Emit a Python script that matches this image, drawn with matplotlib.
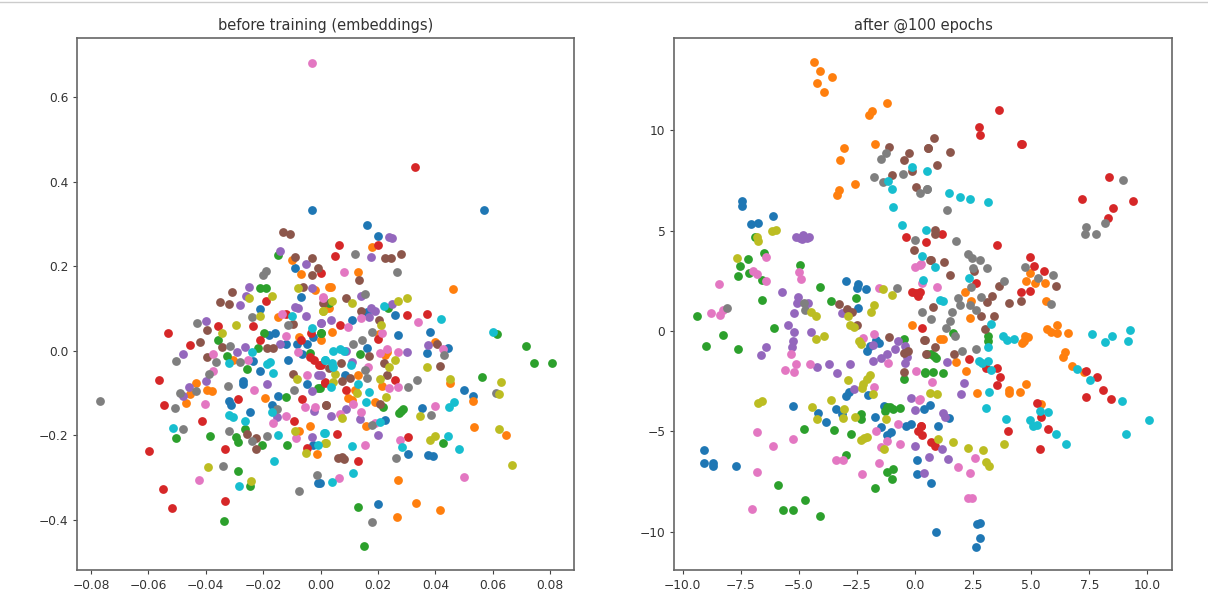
import matplotlib
matplotlib.use("Agg")
import matplotlib.pyplot as plt
from matplotlib.lines import Line2D

colors = ["tab:blue", "tab:orange", "tab:green", "tab:red", "tab:purple",
          "tab:brown", "tab:pink", "tab:gray", "tab:olive", "tab:cyan"]

# before training
before = {}
before["tab:blue"] = [(-0.003,0.332),(0.057,0.332),(-0.009,0.195),(-0.007,0.126),(-0.021,0.098),(0.016,0.297),(0.020,0.271),(0.016,0.091),(0.011,0.073),(0.026,0.084),
    (0.027,0.037),(0.038,0.045),(0.0445,0.006),(0.037,-0.006),(0.016,0.007),(0.0085,-0.058),(0.050,-0.093),(0.053,-0.107),(0.0224,-0.163),(0.0355,-0.136),(0.0304,-0.245),
    (0.0375,-0.247),(0.039,-0.249),(-0.0002,-0.314),(0.020,-0.363),(-0.018,0.037),(-0.016,0.043),(-0.012,0.015),(-0.0084,0.017),(-0.0046,0.017),(-0.0026,0.033),(-0.0237,-0.024),
    (-0.0213,-0.047),(-0.0115,-0.021),(-0.0066,-0.009),(-0.0272,-0.071),(-0.0272,-0.079),(-0.0046,-0.079),(-0.0318,-0.118),(-0.0314,-0.129),(-0.015,-0.107),(-0.0168,-0.129),
    (-0.0246,-0.145),(-0.0026,-0.222),(-0.0008,-0.314)]
before["tab:orange"] = [(-0.010,0.215),(-0.007,0.181),(-0.002,0.144),(0.003,0.151),(0.002,0.100),(-0.015,0.079),(0.018,0.245),(0.013,0.187),(0.0035,0.150),(0.046,0.147),(0.003,0.100),
    (0.004,0.045),(0.0205,0.039),(0.040,0.021),(0.023,-0.002),(0.0226,-0.010),(0.013,-0.058),(0.012,-0.093),(0.0213,-0.084),(0.045,-0.077),(0.053,-0.120),(0.0097,-0.113),(0.0108,-0.117),
    (0.019,-0.121),(0.0158,-0.178),(0.0533,-0.181),(0.0645,-0.200),(0.027,-0.305),(0.0334,-0.360),(0.0416,-0.377),(0.0265,-0.394),(-0.0077,0.032),(0,0.025),(-0.0307,-0.021),
    (-0.0436,-0.076),(-0.0455,-0.103),(-0.047,-0.124),(-0.0395,-0.093),(-0.038,-0.095),(-0.0195,-0.113),(-0.0074,-0.189),(-0.0037,-0.178),(-0.0013,-0.245)]
before["tab:green"] = [(-0.015,0.227),(-0.021,0.148),(-0.019,0.148),(0.003,0.112),(0.0236,0.100),(0.0003,0.043),(0.0137,-0.009),(-0.0002,-0.089),(0.0563,-0.062),(0.0613,0.039),(0.0714,0.011),
    (0.0743,-0.030),(0.0807,-0.030),(0.0218,-0.134),(0.0273,-0.147),(0.0288,-0.137),(0.028,-0.142),(0.0427,-0.218),(0.0129,-0.369),(0.015,-0.462),(-0.0357,0.025),(-0.0197,0.043),(0,0.041),
    (-0.0217,0.006),(-0.0037,-0.005),(-0.0325,-0.013),(-0.0258,-0.044),(-0.0008,-0.089),(-0.0122,-0.110),(-0.0503,-0.207),(-0.0387,-0.201),(-0.0264,-0.186),(-0.0296,-0.204),(-0.0289,-0.215),
    (-0.0204,-0.223),(-0.0118,-0.223),(-0.0289,-0.285),(-0.0246,-0.320),(-0.0337,-0.403)]
before["tab:red"] = [(0,0.184),(-0.019,0.118),(-0.012,0.088),(0.033,0.434),(0.0065,0.251),(0.020,0.251),(0.005,0.225),(0.030,0.084),(0.037,0.086),(0.0067,0.061),(0.020,0.028),(0.0003,-0.034),
    (0.0015,-0.075),(0.009,-0.092),(0.026,-0.069),(0.0303,-0.204),(0.0056,-0.196),(0.0129,-0.261),(-0.0358,0.058),(-0.0235,0.058),(-0.0533,0.043),(-0.0456,0.013),(-0.021,0.025),(-0.007,0.025),
    (-0.0035,0.043),(-0.0037,-0.014),(-0.0023,-0.022),(-0.0005,-0.034),(-0.0563,-0.070),(0.0015,-0.076),(-0.0545,-0.129),(-0.0288,-0.114),(-0.0064,-0.114),(-0.0093,-0.166),(-0.0412,-0.166),
    (-0.0046,-0.230),(-0.0332,-0.233),(-0.0597,-0.238),(-0.0549,-0.328),(-0.0519,-0.372),(-0.0332,-0.355)]
before["tab:purple"] = [(-0.014,0.237),(-0.005,0.204),(-0.025,0.151),(-0.026,0.130),(-0.028,0.107),(-0.003,0.148),(-0.009,0.104),(-0.008,0.100),(-0.005,0.082),(0.024,0.268),(0.025,0.266),(0.0175,0.222),
    (0.014,0.130),(0.025,0.110),(0.0175,0.100),(0.019,0.095),(0.0035,0.073),(0.017,0.080),(0.0003,0.066),(0.0375,0.013),(0.030,-0.004),(0.009,0),(0.011,-0.026),(0,-0.058),(0.0087,-0.139),
    (0.0035,-0.154),(0.0137,-0.162),(0.020,-0.200),(-0.040,0.071),(0,0.066),(-0.0264,0.009),(-0.014,0.015),(-0.029,-0.004),(-0.048,-0.009),(-0.040,-0.072),(-0.0459,-0.085),(-0.0478,-0.107),
    (-0.0186,-0.079),(-0.0008,-0.058),(-0.0031,-0.095),(-0.0022,-0.143),(-0.0153,-0.158),(-0.0029,-0.205)]
before["tab:brown"] = [(-0.013,0.281),(-0.0106,0.277),(-0.009,0.222),(-0.003,0.219),(-0.001,0.196),(-0.003,0.178),(-0.031,0.138),(-0.035,0.115),(-0.032,0.111),(-0.006,0.151),(0.001,0.112),
    (0.0226,0.219),(0.0245,0.219),(0.028,0.228),(0.0134,0.167),(0.0087,0.125),(0.014,0.095),(0.0205,0.073),(0.0405,0.017),(0.017,-0.013),(0.022,-0.028),(0.0416,-0.036),(0.007,-0.028),(0.003,-0.042),
    (0.0102,-0.065),(0.0073,-0.072),(0.023,-0.058),(0.0207,-0.127),(0.002,-0.129),(0.006,-0.255),(0.008,-0.256),(0.0073,-0.251),(-0.0396,0.049),(-0.042,0.020),(-0.0343,0.009),(-0.0095,0.063),
    (-0.0188,0.006),(-0.0165,0.006),(-0.0396,-0.016),(-0.0096,-0.055),(0.0017,-0.128),(-0.0258,-0.196),(-0.0225,-0.206),(-0.0226,-0.233)]
before["tab:pink"] = [(-0.003,0.682),(0.001,0.126),(-0.0136,0.088),(0.008,0.187),(0.0007,0.125),(0.014,0.078),(0.034,0.069),(0.0097,0.055),(0.0215,0.043),(0.0425,0.003),(0.027,-0.004),(0.023,0.004),
    (0.0207,-0.006),(0.0164,-0.038),(0.024,-0.089),(0.027,-0.085),(0.0114,-0.125),(0.040,-0.131),(0.0067,-0.150),(0.014,-0.144),(0.019,-0.172),(0.0276,-0.211),(0.0155,-0.223),(0.050,-0.299),
    (0.0065,-0.302),(-0.0122,0.035),(-0.008,-0.004),(-0.0374,-0.009),(-0.0254,-0.021),(-0.0374,-0.047),(-0.0046,-0.058),(-0.0233,-0.094),(-0.0055,-0.134),(-0.002,-0.134),(-0.0122,-0.155),
    (-0.0165,-0.172),(-0.0402,-0.125),(-0.0087,-0.207),(-0.0425,-0.305)]
before["tab:gray"] = [(-0.019,0.188),(-0.020,0.180),(-0.024,0.079),(0.012,0.230),(0.0265,0.187),(0.0155,0.135),(0.018,0.045),(0.0114,0.015),(0.0145,0.025),(0.043,-0.010),(0.0155,-0.046),(0.016,-0.065),
    (0.0303,-0.085),(0.0335,-0.069),(0.061,-0.099),(0.0386,-0.152),(0.0178,-0.176),(0.0262,-0.253),(0.018,-0.406),(-0.043,0.066),(-0.0113,0.061),(-0.0316,0.011),(-0.0503,-0.024),(-0.0366,-0.026),
    (-0.028,-0.026),(-0.039,-0.055),(-0.049,-0.099),(-0.0434,-0.095),(-0.0506,-0.136),(-0.0324,-0.084),(-0.0092,-0.092),(-0.0153,-0.138),(-0.048,-0.186),(-0.032,-0.189),(-0.024,-0.214),(-0.0187,-0.201),
    (-0.034,-0.273),(-0.0013,-0.293),(-0.0077,-0.331),(-0.0768,-0.119)]
before["tab:olive"] = [(-0.025,0.125),(-0.017,0.130),(-0.008,0.148),(0.001,0.094),(-0.021,0.082),(0.011,0.114),(0.030,0.124),(0.027,0.118),(0.004,0.118),(0.0007,0.094),(0.021,0.061),(0.026,-0.022),
    (0.024,-0.038),(0.037,-0.039),(0.005,-0.054),(0.0044,-0.073),(0.0128,-0.101),(0.0207,-0.068),(0.045,-0.068),(0.0628,-0.073),(0.0622,-0.103),(0.0227,-0.109),(0.0073,-0.160),(0.0346,-0.155),
    (0.062,-0.186),(0.038,-0.212),(0.040,-0.201),(0.0667,-0.271),(0.0015,-0.219),(-0.0296,0.061),(-0.0344,0.043),(-0.0081,-0.068),(-0.0089,-0.189),(-0.0051,-0.241),(0.0017,-0.219),(-0.0391,-0.276),
    (-0.0243,-0.308)]
before["tab:cyan"] = [(-0.010,0.082),(0.022,0.106),(0.042,0.074),(0.060,0.045),(0.0044,0),(0.0067,0.003),(0.008,0),(0.0105,-0.034),(0.0015,-0.022),(0.004,-0.030),(0.0044,-0.038),(0.0036,-0.087),(0.013,-0.079),
    (0.0168,-0.097),(0.0158,-0.121),(0.0207,-0.168),(0.0448,-0.134),(0.0466,-0.122),(0.0283,-0.229),(0.0445,-0.201),(0.0483,-0.233),(0.011,-0.225),(0.0012,-0.194),(0.0114,-0.290),(0.004,-0.310),
    (-0.003,0.053),(-0.024,-0.002),(-0.032,-0.030),(-0.0188,-0.032),(-0.0177,-0.026),(-0.0165,-0.052),(0.0015,-0.022),(-0.0171,-0.144),(-0.0318,-0.152),(-0.0304,-0.156),(-0.0262,-0.166),(-0.0516,-0.184),
    (-0.0149,-0.200),(0.0015,-0.194),(-0.0008,-0.223),(-0.0161,-0.262),(-0.0285,-0.320)]

# after @100 epochs
after = {}
after["tab:blue"] = [(-7.45,6.50),(-7.45,6.25),(-7.07,5.32),(-6.74,5.40),(-6.11,5.71),(-2.98,2.48),(-2.47,2.34),(-2.48,2.13),(-2.11,2.11),(-2.47,1.13),(0.37,-3.89),(0.63,-3.67),(1.46,-4.32),(0.99,-4.75),
    (0.67,-7.56),(0.89,-10.0),(2.68,-9.62),(2.78,-9.57),(2.78,-10.3),(2.61,-10.73),(-1.69,-0.45),(-1.54,-0.61),(-1.94,-0.73),(-2.05,-0.98),(-2.98,-3.22),(-2.84,-3.02),(-2.01,-3.17),(-5.27,-3.72),
    (-4.16,-4.09),(-3.85,-4.52),(-3.41,-3.89),(-3.16,-4.15),(-1.74,-4.30),(-1.33,-3.72),(-1.46,-4.80),(-1.22,-5.17),(-1.05,-5.05),(-0.39,-4.75),(-0.16,-4.63),(-9.07,-5.91),(-9.07,-6.59),(-8.69,-6.59),
    (-8.68,-6.71),(-7.69,-6.71),(0.10,-6.40),(0.10,-7.13)]
after["tab:orange"] = [(-4.33,13.39),(-4.10,12.97),(-3.57,12.66),(-4.20,12.38),(-3.90,11.93),(-1.21,11.38),(-1.84,10.95),(-1.98,10.78),(-3.06,9.14),(-3.21,8.52),(-1.74,9.30),(-2.57,7.31),(-3.27,7.03),(-3.37,6.76),
    (4.76,2.51),(4.94,2.87),(5.15,2.41),(5.58,2.41),(2.14,1.93),(2.43,1.51),(5.62,1.51),(2.35,0.63),(5.70,0.10),(5.87,-0.03),(6.10,0.32),(6.10,-0.07),(6.59,-0.07),(4.73,-0.23),(4.86,-0.28),(4.68,-0.48),
    (4.61,-0.60),(1.06,-0.37),(1.21,-0.37),(6.47,-1.06),(6.37,-1.28),(6.77,-1.76),(7.26,-2.06),(1.77,-1.56),(2.21,-1.99),(2.68,-3.06),(4.03,-2.92),(4.05,-3.07),(4.53,-3.04),(4.79,-2.62),(5.44,-3.65),(-0.11,0.32)]
after["tab:green"] = [(-6.89,4.67),(-7.20,3.57),(-7.55,3.26),(-7.63,2.72),(-7.13,2.91),(-6.49,3.87),(-6.60,2.56),(-4.94,3.29),(-4.10,2.18),(-2.53,1.63),(-6.59,1.56),(-3.60,1.50),(-9.38,0.73),(3.14,-0.23),(3.14,-0.48),
    (1.64,-0.07),(0.42,-2.08),(0.79,-2.06),(1.21,-2.11),(0.70,-1.15),(0.80,-1.23),(0.92,-1.35),(-8.28,-0.18),(-9.01,-0.73),(-7.63,-0.91),(-6.05,0.13),(-0.47,-0.40),(-0.46,-2.39),(0.43,-2.06),(-4.75,-8.42),
    (-5.68,-8.90),(-5.27,-8.90),(-4.10,-9.20),(-5.91,-7.67),(-1.74,-7.81),(-4.79,-4.87),(-3.47,-4.93),(-2.75,-5.12),(-2.98,-6.15),(-2.32,-4.14),(-2.32,-4.39),(-1.29,-3.97),(-1.08,-3.80),(-1.22,-3.80),
    (-0.96,-3.90),(-0.63,-3.84),(-1.22,-7.0),(-0.93,-6.89),(-1.0,-7.37),(0.5,-1.15)]
after["tab:red"] = [(-0.39,4.70),(0.46,4.44),(-0.11,1.96),(0.03,1.88),(0.22,1.96),(0.11,1.76),(3.62,11.01),(2.74,10.17),(2.78,9.78),(4.55,9.34),(4.6,9.30),(8.37,7.67),(9.38,6.50),(8.54,6.13),(7.2,6.56),(8.31,5.65),
    (1.15,4.85),(3.53,4.30),(4.95,3.69),(5.11,3.24),(5.54,2.97),(4.58,1.93),(4.96,1.98),(2.64,2.39),(2.32,-1.40),(3.04,-1.84),(3.53,-1.84),(3.67,-2.31),(3.53,-2.69),(7.37,-1.98),(7.85,-2.31),(8.11,-2.92),
    (7.37,-3.29),(8.42,-3.36),(5.25,-3.60),(5.41,-4.27),(5.74,-4.87),(3.99,-5.00),(5.37,-5.85),(0.32,0.15),(0.27,-4.75),(0.32,-5.17),(0.68,-5.50),(0.85,-5.71),(0.26,-4.75),(0.14,-4.97)]
after["tab:purple"] = [(-5.12,4.67),(-4.95,4.63),(-4.81,4.78),(-4.66,4.63),(-4.58,4.67),(-4.85,4.57),(-5.74,1.93),(-5.05,1.68),(-5.06,1.40),(-4.6,1.38),(-5.21,0.90),(-3.16,0.88),(1.38,-1.53),(2.11,-2.61),(1.98,-3.11),
    (1.21,-4.09),(1.28,-4.30),(1.42,-6.38),(1.15,-5.85),(0.6,-6.26),(0.4,-7.08),(-5.48,0.32),(-5.21,-0.05),(-4.48,-0.05),(-5.27,-0.48),(-5.31,-0.78),(-6.43,-0.78),(-6.64,-1.21),(-4.22,-1.78),(-3.69,-1.64),
    (-3.37,-2.11),(-2.78,-1.64),(-1.79,-1.51),(-1.48,-1.35),(-1.22,-1.15),(-0.86,-0.90),(-0.73,-0.48),(-0.42,-0.73),(-0.36,-1.31),(-0.42,-1.61),(-1.79,-0.70),(-2.61,-2.86),(-0.16,-3.34),(0,-3.92),(0.01,-5.71)]
after["tab:brown"] = [(-1.12,9.19),(-0.26,8.89),(-0.47,8.52),(0.55,9.14),(-1.0,7.77),(-0.11,7.99),(0.06,7.19),(-0.06,4.05),(0.65,3.54),(-3.29,1.35),(-2.94,1.08),(-2.73,0.96),(0.83,9.62),(0.57,9.14),(1.52,8.94),(0.95,8.27),
    (0.85,5.03),(0.87,4.83),(0.67,3.52),(1.26,3.46),(1.49,2.79),(2.54,2.97),(3.62,2.24),(3.31,1.74),(3.1,1.46),(4.05,1.41),(4.58,1.51),(6.05,2.24),(0.78,1.21),(2.83,0.73),(3.4,0.73),(1.68,-1.15),(0.85,-0.78),
    (0.42,-0.43),(0.49,-1.15),(3.0,0.10),(-1.12,-0.28),(0.39,-0.45),(-0.29,-1.01),(-0.46,-1.11),(-0.46,-2.03),(-2.51,0.32)]
after["tab:pink"] = [(0,3.21),(0.22,3.31),(0.32,2.38),(-6.96,3.01),(-6.81,2.82),(-6.41,3.69),(-6.41,2.52),(-8.44,2.36),(-4.99,2.92),(-4.91,2.59),(-1.54,2.13),(-8.79,0.88),(-8.39,0.80),(-8.25,1.05),(0.24,3.32),(0.95,2.18),
    (0.73,-2.56),(0.2,-3.39),(2.57,-6.31),(1.85,-6.76),(2.37,-7.08),(2.28,-8.29),(2.47,-8.29),(-5.6,-1.94),(-5.21,-2.06),(-5.11,-1.63),(-5.32,-1.15),(-4.53,-1.64),(-2.25,-0.32),(-1.75,-0.15),(-1.16,-1.61),
    (0.04,-1.99),(-1.75,-2.77),(0.17,-3.41),(-0.73,-4.63),(-1.68,-5.0),(-1.22,-5.47),(-1.48,-5.76),(-0.63,-5.6),(-1.54,-6.59),(-2.27,-7.13),(-3.4,-6.4),(-3.1,-6.4),(-5.27,-5.37),(-6.11,-5.71),(-6.8,-5.05),
    (-6.8,-7.01),(-7.0,-8.84)]
after["tab:gray"] = [(-1.26,8.89),(-1.48,8.59),(-1.75,7.67),(-1.36,7.41),(-0.52,7.84),(0.22,6.86),(0.5,7.09),(0.01,4.55),(-0.77,2.13),(-4.76,1.38),(-4.75,1.05),(0.32,0.96),(-8.08,1.16),(0.52,7.09),(1.36,6.01),(7.38,5.17),
    (7.32,4.85),(7.79,4.85),(8.16,5.40),(8.95,7.54),(1.78,4.50),(2.28,3.82),(2.47,3.65),(2.81,3.54),(3.11,3.16),(2.5,3.12),(4.72,3.21),(5.96,2.79),(5.29,2.67),(3.85,2.48),(2.42,2.18),(2.83,1.71),(1.85,1.63),
    (1.92,1.30),(5.87,1.36),(1.59,0.95),(0.68,0.60),(2.35,1.30),(2.64,1.05),(1.74,-0.23),(1.35,0.13),(2.04,-0.98),(2.64,-0.91),(1.49,0.48)]
after["tab:olive"] = [(-6.17,4.97),(-5.97,5.03),(-6.79,4.70),(-6.74,4.50),(-7.65,3.64),(-1.39,2.11),(-1.0,1.79),(-4.48,0.93),(-4.27,0.73),(-2.87,0.76),(-1.76,1.28),(-1.91,0.96),(0.63,-3.06),(0.95,-3.11),(0.99,-5.38),
    (1.62,-5.50),(2.27,-5.80),(2.94,-5.91),(3.07,-6.54),(3.17,-6.74),(3.84,-5.61),(-4.28,-0.37),(-3.92,-0.23),(-2.80,0.32),(-2.63,0.18),(-2.40,-0.48),(-2.34,-0.65),(-2.90,-2.44),(-1.94,-2.19),(-2.08,-2.39),
    (-2.22,-2.64),(-2.28,-2.81),(-1.79,-3.14),(-3.63,-3.42),(-4.42,-3.79),(-4.22,-4.39),(-3.06,-3.89),(-3.11,-4.35),(-2.57,-4.27),(-1.25,-4.39),(-6.74,-3.59),(-6.6,-3.47),(-2.32,-5.43),(-2.08,-5.27),(-2.18,-5.33),
    (-1.33,-5.85)]
after["tab:cyan"] = [(-0.14,8.19),(0.5,7.96),(-1.16,7.46),(-0.99,7.06),(-0.93,6.20),(-0.57,5.28),(0.46,5.03),(0.29,3.75),(0.33,2.54),(1.46,6.88),(1.94,6.68),(2.37,6.56),(3.16,6.45),(0.88,3.21),(2.31,2.66),(1.06,1.53),(1.21,1.51),
    (3.26,0.35),(3.77,-0.23),(3.95,-0.45),(4.26,-0.37),(3.16,-0.78),(7.62,-0.12),(8.48,-0.23),(8.16,-0.56),(9.27,0.07),(9.17,-0.48),(2.75,-1.48),(2.88,-1.59),(3.16,-1.48),(3.29,-1.94),(6.97,-1.89),(7.52,-2.43),
    (3.19,-3.04),(3.04,-3.84),(3.93,-4.39),(8.89,-3.47),(10.06,-4.45),(9.07,-5.12),(4.93,-4.45),(5.08,-4.72),(5.25,-4.68),(5.37,-3.97),(5.71,-4.02),(6.05,-5.12),(6.49,-5.61)]

W, H = 1208, 607
fig = plt.figure(figsize=(W / 100, H / 100), dpi=100)


def make_axes(left, right, title, xlim, ylim, xticks, yticks, fmt_x, fmt_y):
    ax = fig.add_axes([left / W, 1 - 570 / H, (right - left) / W, 532 / H])
    ax.set_xlim(xlim)
    ax.set_ylim(ylim)
    ax.set_xticks(xticks)
    ax.set_yticks(yticks)
    ax.set_xticklabels([fmt_x % t if t >= 0 else "\u2212" + fmt_x % -t for t in xticks])
    ax.set_yticklabels([fmt_y % t if t >= 0 else "\u2212" + fmt_y % -t for t in yticks])
    ax.tick_params(labelsize=8.8, labelcolor="#333333", color="#444444", length=3.2, width=0.8, pad=3)
    ax.set_title(title, fontsize=10.5, color="#333333", pad=6)
    for s in ax.spines.values():
        s.set_color("#666666")
        s.set_linewidth(1.2)
    return ax


ax1 = make_axes(77, 574, "before training (embeddings)", (-0.0849, 0.0883), (-0.519, 0.740),
                [-0.08, -0.06, -0.04, -0.02, 0.0, 0.02, 0.04, 0.06, 0.08],
                [-0.4, -0.2, 0.0, 0.2, 0.4, 0.6], "%.2f", "%.1f")
ax2 = make_axes(674, 1172, "after @100 epochs", (-10.37, 11.06), (-11.9, 14.6),
                [-10.0, -7.5, -5.0, -2.5, 0.0, 2.5, 5.0, 7.5, 10.0],
                [-10, -5, 0, 5, 10], "%.1f", "%d")

for c in colors:
    xs, ys = zip(*before[c])
    ax1.scatter(xs, ys, s=40, color=c, linewidths=0)
    xs, ys = zip(*after[c])
    ax2.scatter(xs, ys, s=40, color=c, linewidths=0)

# notebook cell edge at the top of the screenshot
fig.add_artist(Line2D([0, 1], [1 - 1.5 / H, 1 - 1.5 / H], color="#cccccc", lw=1))

fig.savefig("out.png", dpi=100)
